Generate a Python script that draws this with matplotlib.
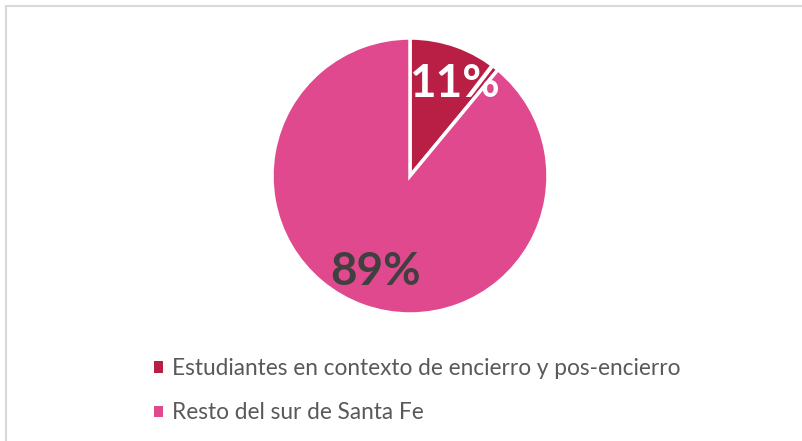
import matplotlib
matplotlib.use("Agg")
from matplotlib import pyplot as plt
from matplotlib.patches import Rectangle

categories = ["Estudiantes en contexto de encierro y pos-encierro",
              "Resto del sur de Santa Fe"]
values = [11, 89]
colors = ["#B91F44", "#E0498D"]
label_colors = ["white", "#404040"]

W, H = 803, 441
fig = plt.figure(figsize=(W / 100, H / 100), dpi=100)

# light grey frame (only top/left edges visible in the crop)
fig.patches.append(Rectangle((6.5 / W, -0.1), 1.2, 1 - 6 / H + 0.1,
                             transform=fig.transFigure, fill=False,
                             edgecolor="#D9D9D9", linewidth=1.5))

cx, cy, r = 410, 176, 138
ax = fig.add_axes([(cx - r) / W, 1 - (cy + r) / H, 2 * r / W, 2 * r / H])
wedges, texts, autotexts = ax.pie(
    values, colors=colors, startangle=90, counterclock=False, radius=1,
    autopct=lambda p: f"{p:.0f}%", pctdistance=0.74,
    wedgeprops=dict(edgecolor="white", linewidth=2.5),
    textprops=dict(fontfamily="Lato", fontweight="bold", fontsize=33))
for t, c in zip(autotexts, label_colors):
    t.set_color(c)
# Excel nudges the small label toward the wider side
autotexts[0].set_position((0.32, 0.67))
ax.set_xlim(-1, 1)
ax.set_ylim(-1, 1)
ax.set_aspect("equal")

leg = fig.legend(wedges, categories, loc="upper left",
                 bbox_to_anchor=(154 / W, 1 - 358 / H), frameon=False,
                 prop=dict(family="Lato", size=16.3), labelcolor="#595959",
                 handlelength=0.4, handleheight=0.4, handletextpad=0.4,
                 labelspacing=1.03, borderpad=0, borderaxespad=0)
for h in leg.legend_handles:
    h.set_linewidth(0)

fig.savefig("out.png", dpi=100)
